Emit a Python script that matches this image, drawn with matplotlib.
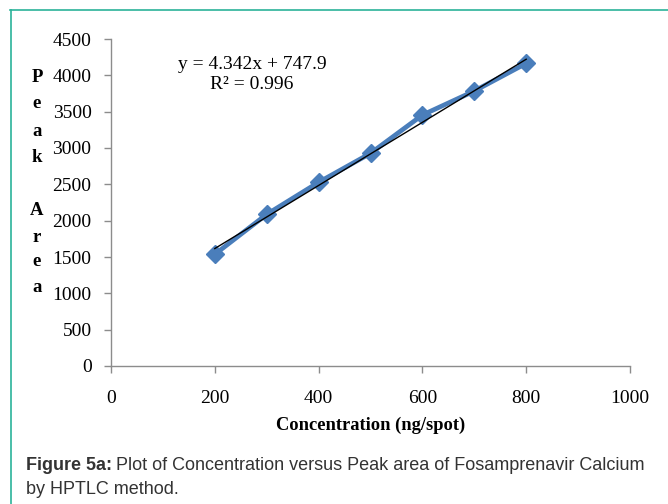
import matplotlib

matplotlib.use("Agg")

import matplotlib.pyplot as plt
import numpy as np
from matplotlib.lines import Line2D

# Data
concentration = [200, 300, 400, 500, 600, 700, 800]
peak_area = [1537, 2087, 2528, 2927, 3454, 3784, 4165]

# Linear trendline given in the chart
slope = 4.342
intercept = 747.9
r_squared = 0.996

x_ticks = [0, 200, 400, 600, 800, 1000]
y_ticks = [0, 500, 1000, 1500, 2000, 2500, 3000, 3500, 4000, 4500]

W, H = 668, 504
fig = plt.figure(figsize=(W / 100, H / 100), dpi=100)

serif = ["Liberation Serif", "DejaVu Serif"]
sans = ["Liberation Sans", "DejaVu Sans"]

# axes placed in pixel coordinates
x0, x1 = 111, 630
y0, y1 = 366, 39
ax = fig.add_axes([x0 / W, 1 - y0 / H, (x1 - x0) / W, (y0 - y1) / H])

ax.plot(concentration, peak_area, color="#4a7ebb", lw=3.4, marker="D",
        markersize=9.5, markeredgecolor="#4a7ebb", zorder=2)

fit_x = np.array([concentration[0], concentration[-1]])
ax.plot(fit_x, slope * fit_x + intercept, color="black", lw=1.0, zorder=3)

ax.set_xlim(0, 1000)
ax.set_ylim(0, 4500)
ax.set_xticks(x_ticks)
ax.set_yticks(y_ticks)
for sp in ["top", "right"]:
    ax.spines[sp].set_visible(False)
for sp in ["left", "bottom"]:
    ax.spines[sp].set_color("#8c8c8c")
    ax.spines[sp].set_linewidth(1.0)
ax.tick_params(colors="#8c8c8c", length=5, width=1.0, direction="out")
ax.tick_params(axis="x", pad=12)
ax.tick_params(axis="y", pad=9)
for lbl in ax.get_xticklabels() + ax.get_yticklabels():
    lbl.set_color("black")
    lbl.set_family(serif)
    lbl.set_fontsize(14)

eq_x = (252 - x0) / (x1 - x0) * 1000
ax.text(eq_x, 4150, "y = 4.342x + 747.9", fontsize=14, family=serif,
        ha="center", va="center")
ax.text(eq_x, 3870, "R² = {:.3f}".format(r_squared), fontsize=14,
        family=serif, ha="center", va="center")

ax.set_xlabel("Concentration (ng/spot)", fontsize=13.3, family=serif,
              fontweight="bold", labelpad=7)

# stacked y label letters
letters = ["P", "e", "a", "k", "", "A", "r", "e", "a"]
ys = [77, 104, 131, 157, 183, 210, 237, 262, 288]
for ch, yy in zip(letters, ys):
    fig.text(37 / W, 1 - yy / H, ch, fontsize=13.5, family=serif,
             fontweight="bold", ha="center", va="center")

# frame lines
teal = "#2bb39a"
fig.add_artist(Line2D([10 / W, 1], [1 - 10 / H, 1 - 10 / H], color=teal,
                      lw=1.2, transform=fig.transFigure))
fig.add_artist(Line2D([10.5 / W, 10.5 / W], [0, 1 - 10 / H], color=teal,
                      lw=1.2, transform=fig.transFigure))

# caption
t = fig.text(26 / W, 1 - 466 / H, "Figure 5a:", fontsize=13, family=sans,
             fontweight="bold", color="#333333", va="center")
fig.canvas.draw()
bb = t.get_window_extent()
fig.text(bb.x1 / W + 4 / W, 1 - 466 / H,
         "Plot of Concentration versus Peak area of Fosamprenavir Calcium",
         fontsize=13, family=sans, color="#333333", va="center")
fig.text(26 / W, 1 - 490 / H, "by HPTLC method.", fontsize=13, family=sans,
         color="#333333", va="center")

fig.savefig("out.png", dpi=100)
